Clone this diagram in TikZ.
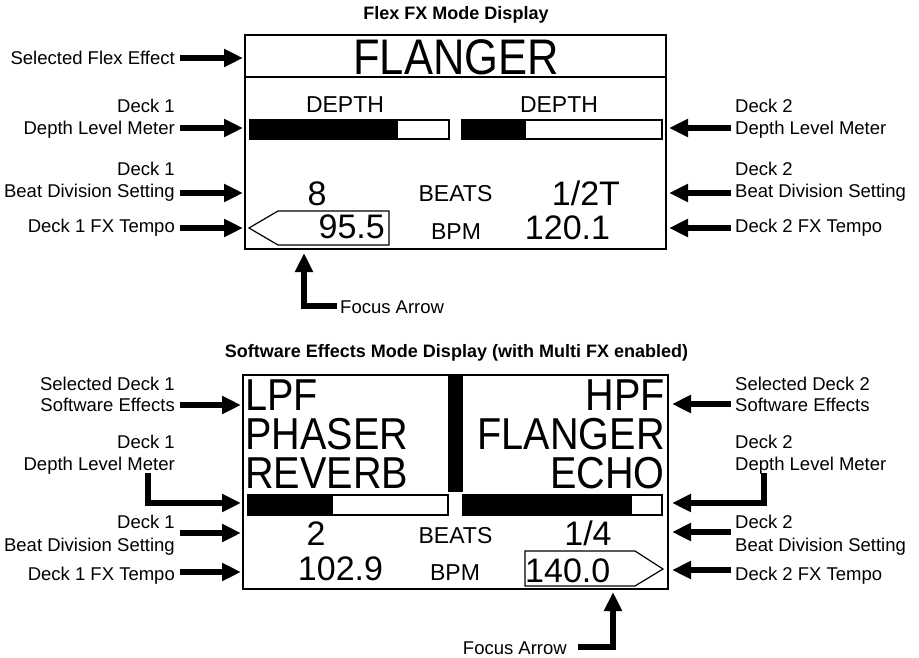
\documentclass[tikz,border=0pt]{standalone}
\usepackage{fontspec}
\usepackage{graphicx}
\setmainfont{Liberation Sans}
\usetikzlibrary{arrows.meta}
\begin{document}
\begin{tikzpicture}[x=1pt,y=-1pt,
  lblL/.style={inner sep=0pt, anchor=base east, font=\fontsize{18.5}{21}\selectfont},
  lblR/.style={inner sep=0pt, anchor=base west, font=\fontsize{18.5}{21}\selectfont},
  ttl/.style={inner sep=0pt, anchor=base, font=\fontsize{18}{20}\selectfont\bfseries},
  dsmall/.style={inner sep=0pt, anchor=base, font=\fontsize{23}{23}\selectfont},
  dnum/.style={inner sep=0pt, anchor=base, font=\fontsize{34}{34}\selectfont},
  dbig/.style={inner sep=0pt, text height=32pt, text depth=0pt, font=\fontsize{44.7}{44.7}\selectfont},
  dhuge/.style={inner sep=0pt, anchor=base, font=\fontsize{50}{50}\selectfont},
  frame/.style={draw=black, line width=1.5pt},
  meter/.style={draw=black, line width=1.2pt},
  focusbox/.style={draw=black, line width=1.2pt, line join=miter},
  arr/.style={line width=5.5pt, line join=miter, line cap=butt, -{Triangle[length=19pt,width=17pt]}}
]
\useasboundingbox (0,0) rectangle (919,658);
\fill[white] (0,0) rectangle (919,658);

% ================= TOP: Flex FX Mode Display =================
\node[ttl] (title1) at (456,20) {Flex FX Mode Display};
\draw[frame] (245,35) rectangle (666,249);
\draw[frame] (245,77) -- (666,77);

\node[dhuge] (flanger) at (456,75) {\scalebox{0.87}[1]{FLANGER}};
\node[dsmall] (depthL) at (345,113) {DEPTH};
\node[dsmall] (depthR) at (559,113) {DEPTH};

% meters
\fill[black] (250,120) rectangle (398,139);
\draw[meter] (250,120) rectangle (449,139);
\fill[black] (462,120) rectangle (526,139);
\draw[meter] (462,120) rectangle (662,139);

\node[dnum] (divL) at (317,205) {8};
\node[dsmall] (beats1) at (455.5,202) {BEATS};
\node[dnum] (divR) at (586,205) {1/2T};
\draw[focusbox] (249,228) -- (278,211) -- (389,211) -- (389,245) -- (278,245) -- cycle;
\node[dnum, anchor=base east] (tempoL) at (385,238) {95.5};
\node[dsmall] (bpm1) at (456,240) {BPM};
\node[dnum] (tempoR) at (567.5,240) {120.1};

% left labels
\node[lblL] (tl1) at (175,65) {Selected Flex Effect};
\node[lblL] (tl2a) at (175,113) {Deck 1};
\node[lblL] (tl2b) at (175,135) {Depth Level Meter};
\node[lblL] (tl3a) at (175,176) {Deck 1};
\node[lblL] (tl3b) at (175,198) {Beat Division Setting};
\node[lblL] (tl4) at (175,233) {Deck 1 FX Tempo};
% right labels
\node[lblR] (tr2a) at (735,113) {Deck 2};
\node[lblR] (tr2b) at (735,135) {Depth Level Meter};
\node[lblR] (tr3a) at (735,176) {Deck 2};
\node[lblR] (tr3b) at (735,198) {Beat Division Setting};
\node[lblR] (tr4) at (735,233) {Deck 2 FX Tempo};

\coordinate (a1s) at (180,58);  \coordinate (a1e) at (243,58);
\coordinate (a2s) at (180,128); \coordinate (a2e) at (243,128);
\coordinate (a3s) at (180,193); \coordinate (a3e) at (243,193);
\coordinate (a4s) at (180,228); \coordinate (a4e) at (243,228);
\coordinate (b2s) at (731,128); \coordinate (b2e) at (669,128);
\coordinate (b3s) at (731,193); \coordinate (b3e) at (669,193);
\coordinate (b4s) at (731,228); \coordinate (b4e) at (669,228);
\draw[arr] (a1s) -- (a1e);
\draw[arr] (a2s) -- (a2e);
\draw[arr] (a3s) -- (a3e);
\draw[arr] (a4s) -- (a4e);
\draw[arr] (b2s) -- (b2e);
\draw[arr] (b3s) -- (b3e);
\draw[arr] (b4s) -- (b4e);

% focus arrow (top)
\node[lblR] (focus1) at (340,313) {Focus Arrow};
\coordinate (f1s) at (337,306);
\coordinate (f1c) at (304,306);
\coordinate (f1e) at (304,253);
\draw[arr] (f1s) -- (f1c) -- (f1e);

% ================= BOTTOM: Software Effects Mode Display =================
\node[ttl] (title2) at (456.5,357) {Software Effects Mode Display (with Multi FX enabled)};
\draw[frame] (243,375) rectangle (668,589);
\fill[black] (448,375) rectangle (463,492);

\node[dbig, anchor=base west] (fxL1) at (245,410) {\scalebox{0.886}[1]{LPF}};
\node[dbig, anchor=base west] (fxL2) at (245,449) {\scalebox{0.886}[1]{PHASER}};
\node[dbig, anchor=base west] (fxL3) at (245,488) {\scalebox{0.886}[1]{REVERB}};
\node[dbig, anchor=base east] (fxR1) at (665,410) {\scalebox{0.886}[1]{HPF}};
\node[dbig, anchor=base east] (fxR2) at (665,449) {\scalebox{0.886}[1]{FLANGER}};
\node[dbig, anchor=base east] (fxR3) at (665,488) {\scalebox{0.886}[1]{ECHO}};

\fill[black] (248,495) rectangle (333,515);
\draw[meter] (248,495) rectangle (448,515);
\fill[black] (463,495) rectangle (632,515);
\draw[meter] (463,495) rectangle (662,515);

\node[dnum] (div2L) at (316,545) {2};
\node[dsmall] (beats2) at (455.5,543) {BEATS};
\node[dnum] (div2R) at (588,545) {1/4};
\node[dnum] (tempo2L) at (340.5,580) {102.9};
\node[dsmall] (bpm2) at (455,580) {BPM};
\draw[focusbox] (525,551) -- (635,551) -- (663,569) -- (635,586) -- (525,586) -- cycle;
\node[dnum, anchor=base west] (tempo2R) at (525,582) {140.0};

% left labels
\node[lblL] (bl1a) at (175,390) {Selected Deck 1};
\node[lblL] (bl1b) at (175,411) {Software Effects};
\node[lblL] (bl2a) at (175,448) {Deck 1};
\node[lblL] (bl2b) at (175,470) {Depth Level Meter};
\node[lblL] (bl3a) at (175,528) {Deck 1};
\node[lblL] (bl3b) at (175,551) {Beat Division Setting};
\node[lblL] (bl4) at (175,580) {Deck 1 FX Tempo};
% right labels
\node[lblR] (br1a) at (735,390) {Selected Deck 2};
\node[lblR] (br1b) at (735,411) {Software Effects};
\node[lblR] (br2a) at (735,448) {Deck 2};
\node[lblR] (br2b) at (735,470) {Depth Level Meter};
\node[lblR] (br3a) at (735,528) {Deck 2};
\node[lblR] (br3b) at (735,551) {Beat Division Setting};
\node[lblR] (br4) at (735,580) {Deck 2 FX Tempo};

\coordinate (c1s) at (180,405); \coordinate (c1e) at (241,405);
\coordinate (c2s) at (148,473); \coordinate (c2c) at (148,503); \coordinate (c2e) at (241,503);
\coordinate (c3s) at (180,533); \coordinate (c3e) at (241,533);
\coordinate (c4s) at (180,572); \coordinate (c4e) at (241,572);
\coordinate (d1s) at (731,404); \coordinate (d1e) at (672,404);
\coordinate (d2s) at (764,473); \coordinate (d2c) at (764,503); \coordinate (d2e) at (672,503);
\coordinate (d3s) at (731,532); \coordinate (d3e) at (672,532);
\coordinate (d4s) at (731,570); \coordinate (d4e) at (672,570);
\draw[arr] (c1s) -- (c1e);
\draw[arr] (c2s) -- (c2c) -- (c2e);
\draw[arr] (c3s) -- (c3e);
\draw[arr] (c4s) -- (c4e);
\draw[arr] (d1s) -- (d1e);
\draw[arr] (d2s) -- (d2c) -- (d2e);
\draw[arr] (d3s) -- (d3e);
\draw[arr] (d4s) -- (d4e);

% focus arrow (bottom)
\node[lblL] (focus2) at (567,654) {Focus Arrow};
\coordinate (f2s) at (578,647);
\coordinate (f2c) at (613,647);
\coordinate (f2e) at (613,592);
\draw[arr] (f2s) -- (f2c) -- (f2e);
\end{tikzpicture}
\end{document}
